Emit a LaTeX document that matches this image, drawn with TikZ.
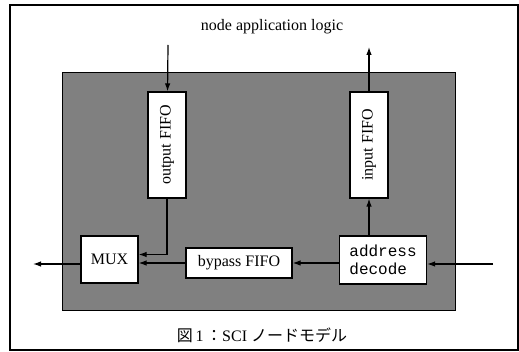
\documentclass[tikz,border=0pt]{standalone}
\usepackage{fontspec}
\setmainfont{Liberation Serif}
\setmonofont{Liberation Mono}
\newfontfamily\cjk{Noto Sans CJK JP}
\usetikzlibrary{arrows.meta}
\tikzset{
  blk/.style={draw, fill=white, line width=1.2pt, inner sep=0pt, font=\fontsize{16}{18}\selectfont},
  arr/.style={-{Latex[length=8pt,width=5.5pt]}, line width=1.2pt},
}
\begin{document}
\begin{tikzpicture}[x=1pt, y=-1pt]
    \useasboundingbox (0,0) rectangle (519,352);
    \draw[line width=1.2pt] (10,5) rectangle (518,350);
    \node[draw, fill=black!50, line width=1pt, minimum width=393pt, minimum height=238pt] (chip) at (258.5,192) {};
    \node[font=\fontsize{16}{18}\selectfont] (logic) at (272,27) {node application logic};
    \node[blk, minimum width=38pt, minimum height=106pt] (outfifo) at (167,145) {\rotatebox{90}{output FIFO}};
    \node[blk, minimum width=38pt, minimum height=106pt] (infifo) at (369,145) {\rotatebox{90}{input FIFO}};
    \node[blk, minimum width=57pt, minimum height=47pt] (mux) at (109.5,259.5) {MUX};
    \node[blk, minimum width=106pt, minimum height=30pt] (bypass) at (239,263) {bypass FIFO};
    \node[blk, minimum width=87pt, minimum height=48pt, align=left, font=\fontsize{16}{18}\ttfamily] (decode) at (383,260) {address\\decode};
    \node[font=\fontsize{16}{18}\selectfont] (caption) at (262,335) {{\cjk 図}\,1\,{\cjk ：}SCI {\cjk ノードモデル}};
    \coordinate (fromlogic) at (168,45);
    \coordinate (tologic) at (369,47);
    \coordinate (link-in) at (493,264);
    \coordinate (link-out) at (33,264);
    \draw[arr] (fromlogic) -- (outfifo);
    \draw[arr] (infifo) -- (tologic);
    \draw[arr] (decode.north -| infifo) -- (infifo);
    \draw[arr] (link-in) -- (decode.east |- link-in);
    \draw[arr] (decode.west |- bypass) -- (bypass);
    \draw[arr] (bypass) -- (mux.east |- bypass);
    \draw[arr] (outfifo) |- ([yshift=5pt]mux.east);
    \draw[arr] (mux.west |- link-out) -- (link-out);
\end{tikzpicture}
\end{document}
